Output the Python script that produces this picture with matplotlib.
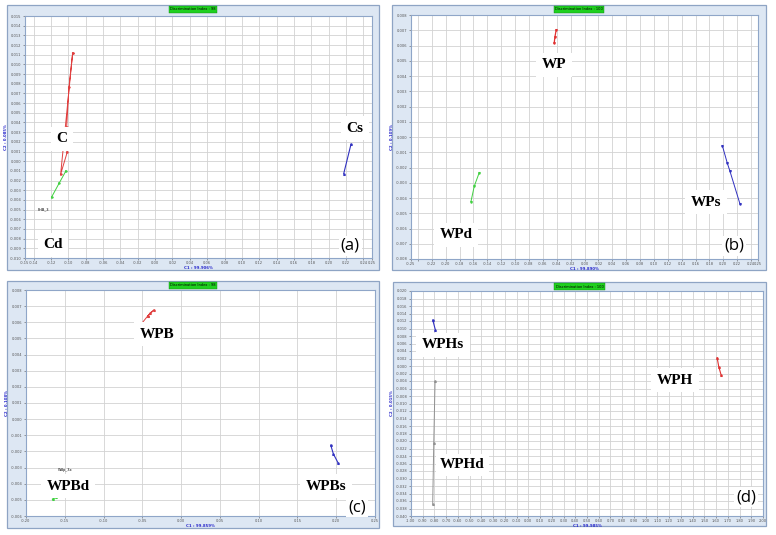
import numpy as np
import matplotlib
matplotlib.use("Agg")
import matplotlib.pyplot as plt
from matplotlib.patches import Rectangle

W, H = 776, 535

# ---------------- data ----------------
# panel (a)
a_red_x = [-0.0951, -0.0993, -0.1020, -0.1012, -0.1089, -0.0951]
a_red_y = [0.01114, 0.0077, 0.0035, 0.00097, -0.00134, 0.01114]
a_green_x = [-0.1028, -0.1108, -0.1193]
a_green_y = [-0.0010, -0.0023, -0.0037]
a_blue_x = [0.2174, 0.2258]
a_blue_y = [-0.00128, 0.00176]
# panel (b)
b_red_x = [-0.0437, -0.0427, -0.0408]
b_red_y = [0.00614, 0.00654, 0.00702]
b_green_x = [-0.1636, -0.1588, -0.1516]
b_green_y = [-0.00423, -0.00322, -0.00233]
b_blue_x = [0.1987, 0.2058, 0.2097, 0.2241]
b_blue_y = [-0.00058, -0.00172, -0.00226, -0.0044]
# panel (c)
c_red_x = [-0.0506, -0.0429, -0.0347, -0.0395, -0.0429]
c_red_y = [0.00594, 0.0064, 0.00677, 0.0066, 0.0064]
c_green_x = [-0.1657, -0.1614]
c_green_y = [-0.00496, -0.00482]
c_blue_x = [0.1929, 0.1963, 0.2027]
c_blue_y = [-0.00161, -0.00215, -0.00274]
# panel (d)
d_blue_x = [-0.8147, -0.792]
d_blue_y = [0.01227, 0.0096]
d_gray_x = [-0.795, -0.806, -0.815]
d_gray_y = [-0.0040, -0.0206, -0.0369]
d_red_x = [1.609, 1.623, 1.643]
d_red_y = [0.00222, -0.0002, -0.0024]

a_xticks = [-0.15] + list(np.round(np.arange(-0.14, 0.2401, 0.02), 2)) + [0.25]
a_yticks = list(np.round(np.arange(-0.010, 0.0151, 0.001), 3))
b_xticks = [-0.25] + list(np.round(np.arange(-0.24, 0.2401, 0.02), 2)) + [0.25]
b_yticks = list(np.round(np.arange(-0.008, 0.0081, 0.001), 3))
c_xticks = list(np.round(np.arange(-0.20, 0.2501, 0.05), 2))
c_yticks = list(np.round(np.arange(-0.006, 0.0081, 0.001), 3))
d_xticks = list(np.round(np.arange(-1.0, 2.001, 0.1), 2))
d_yticks = list(np.round(np.arange(-0.040, 0.0201, 0.002), 3))

titles = ["Discrimination Index : 98", "Discrimination Index : 100",
          "Discrimination Index : 98", "Discrimination Index : 100"]
xlabels = ["C1 : 99.906%", "C1 : 99.890%", "C1 : 99.859%", "C1 : 99.985%"]
ylabels = ["C2 : 0.085%", "C2 : 0.109%", "C2 : 0.108%", "C2 : 0.015%"]

# ---------------- layout helpers ----------------
fig = plt.figure(figsize=(W / 100, H / 100), dpi=100)
fig.patch.set_facecolor("white")


def frect(x0, y0, x1, y1):
    return [x0 / W, 1 - y1 / H, (x1 - x0) / W, (y1 - y0) / H]


def frame(x0, y0, x1, y1):
    r = frect(x0, y0, x1, y1)
    fig.add_artist(Rectangle((r[0], r[1]), r[2], r[3], transform=fig.transFigure,
                             facecolor="#dde7f3", edgecolor="#8ea4c4", lw=0.9, zorder=0))


def fmt(v, nd):
    s = f"{v:.{nd}f}"
    if s.startswith("-0") and float(s) == 0:
        s = s[1:]
    return s


def make_ax(rect_px, xlim, ylim, xticks, yticks, xlab_hide, xnd, ynd, title, xl, yl, frame_px):
    frame(*frame_px)
    ax = fig.add_axes(frect(*rect_px))
    ax.set_zorder(1)
    ax.set_xlim(*xlim)
    ax.set_ylim(*ylim)
    ax.set_xticks(xticks)
    ax.set_yticks(yticks)
    ax.set_xticklabels(["" if t in xlab_hide else fmt(t, xnd) for t in xticks])
    ax.set_yticklabels([fmt(t, ynd) for t in yticks])
    ax.tick_params(labelsize=2.6, length=1.5, width=0.4, pad=1, colors="#555555")
    ax.grid(True, color="#d2d2d2", lw=0.6)
    ax.set_axisbelow(True)
    for s in ax.spines.values():
        s.set_color("#8fa6c8")
        s.set_linewidth(0.8)
    ax.set_xlabel(xl, fontsize=2.8, color="#2a2acc", fontweight="bold", labelpad=0.5)
    ax.set_ylabel(yl, fontsize=2.8, color="#2a2acc", fontweight="bold", labelpad=1)
    fx0, fy0, fx1, fy1 = frame_px
    fig.text(((fx0 + fx1) / 2) / W, 1 - (fy0 + 4.5) / H, title, fontsize=2.6,
             ha="center", va="center",
             bbox=dict(facecolor="#1fd01f", edgecolor="#118811", lw=0.3, pad=0.8))
    return ax


def lab(ax, x, y, s, size=11, serif=True, pad=4):
    fam = ["Liberation Serif"] if serif else ["Open Sans"]
    fig.text(x / W, 1 - y / H, s, fontsize=size, ha="center", va="center",
             fontweight="bold" if serif else "normal", family=fam, zorder=5,
             bbox=dict(facecolor="white", edgecolor="none", pad=pad))


# ---------------- panel (a) ----------------
ax = make_ax((25, 16, 372, 258), (-0.15, 0.25), (-0.010, 0.015), a_xticks, a_yticks,
             [], 2, 3, titles[0], xlabels[0], ylabels[0], (7, 5, 379, 270))
ax.plot(a_red_x, a_red_y, color="#e04040", lw=0.7, marker=">", ms=1.2)
ax.plot(a_green_x, a_green_y, color="#40d040", lw=0.7, marker=">", ms=1.2)
ax.plot(a_blue_x, a_blue_y, color="#3030c0", lw=0.8, marker="^", ms=1.2)
ax.text(-0.129, -0.005, "FHB_3", fontsize=2.6, ha="center", va="center")
lab(ax, 62, 139, "C")
lab(ax, 355, 128, "Cs")
lab(ax, 53, 245, "Cd")
lab(ax, 350, 246, "(a)", size=12, serif=False, pad=1.5)

# ---------------- panel (b) ----------------
ax = make_ax((411, 15, 758, 259), (-0.25, 0.25), (-0.008, 0.008), b_xticks, b_yticks,
             [-0.24], 2, 3, titles[1], xlabels[1], ylabels[1], (392, 5, 766, 270))
ax.plot(b_red_x, b_red_y, color="#e03030", lw=0.9, marker="v", ms=1.2)
ax.plot(b_green_x, b_green_y, color="#40d040", lw=0.7, marker="v", ms=1.2)
ax.plot(b_blue_x, b_blue_y, color="#3030c0", lw=0.7, marker="v", ms=1.2)
lab(ax, 554, 65, "WP")
lab(ax, 706, 202, "WPs")
lab(ax, 456, 235, "WPd")
lab(ax, 734, 246, "(b)", size=12, serif=False, pad=1.5)

# ---------------- panel (c) ----------------
ax = make_ax((26, 290, 375, 516), (-0.20, 0.25), (-0.006, 0.008), c_xticks, c_yticks,
             [], 2, 3, titles[2], xlabels[2], ylabels[2], (7, 281, 379, 528))
ax.plot(c_red_x, c_red_y, color="#e04040", lw=0.7, marker="^", ms=1.2)
ax.plot(c_green_x, c_green_y, color="#40d040", lw=1.0, marker="^", ms=1.2)
ax.plot(c_blue_x, c_blue_y, color="#3030c0", lw=0.8, marker="^", ms=1.2)
ax.text(-0.149, -0.00315, "Wdp_3x", fontsize=2.6, ha="center", va="center")
lab(ax, 157, 334, "WPB")
lab(ax, 68, 486, "WPBd")
lab(ax, 326, 486, "WPBs")
lab(ax, 357, 507, "(c)", size=12, serif=False, pad=1.5)

# ---------------- panel (d) ----------------
ax = make_ax((411, 291, 763, 516), (-1.0, 2.0), (-0.040, 0.020), d_xticks, d_yticks,
             [], 2, 3, titles[3], xlabels[3], ylabels[3], (393, 282, 766, 526))
ax.plot(d_blue_x, d_blue_y, color="#3030c0", lw=0.8, marker="^", ms=1.2)
ax.plot(d_gray_x, d_gray_y, color="#909090", lw=0.7, marker="^", ms=1.2)
ax.plot(d_red_x, d_red_y, color="#e03030", lw=0.8, marker="^", ms=1.2)
lab(ax, 443, 345, "WPHs")
lab(ax, 675, 380, "WPH")
lab(ax, 462, 465, "WPHd", pad=3)
lab(ax, 746, 497, "(d)", size=12, serif=False, pad=1.5)

fig.savefig("out.png", dpi=100)
